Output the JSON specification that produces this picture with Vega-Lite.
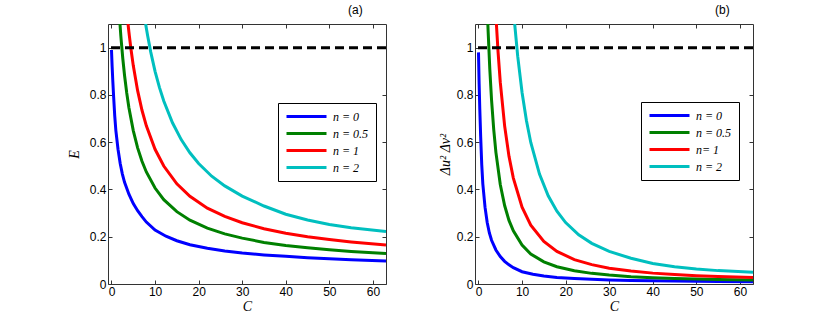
{
  "$schema": "https://vega.github.io/schema/vega-lite/v6.json",
  "padding": {"left": 66, "top": 3, "right": 5, "bottom": 5},
  "background": "white",
  "config": {
    "view": {"stroke": "#333333", "strokeWidth": 1},
    "axis": {"labelFont": "Liberation Sans", "labelFontSize": 12, "labelColor": "#000000", "titleFont": "Liberation Serif", "titleFontStyle": "italic", "titleFontWeight": "normal", "titleFontSize": 14, "titleColor": "#000000", "domain": false, "grid": false, "tickColor": "#333333", "tickSize": -4, "tickWidth": 1},
    "legend": {"orient": "none", "title": null, "symbolType": "M-1,0H7", "symbolSize": 100, "symbolStrokeWidth": 3, "labelFont": "Liberation Serif", "labelFontStyle": "italic", "labelFontSize": 12, "labelColor": "#000000", "strokeColor": "#000000", "fillColor": "white", "padding": 7, "rowPadding": 4, "labelOffset": 35},
    "title": {"font": "Liberation Sans", "fontSize": 12, "fontWeight": "normal", "anchor": "end", "color": "#000000", "offset": 4}
  },
  "datasets": {
    "curves": [
      {"n": "n = 0", "C": 0, "E": 0.99, "D": 0.98},
      {"n": "n = 0", "C": 0.15, "E": 0.92, "D": 0.846},
      {"n": "n = 0", "C": 0.3, "E": 0.86, "D": 0.74},
      {"n": "n = 0", "C": 0.5, "E": 0.79, "D": 0.624},
      {"n": "n = 0", "C": 0.75, "E": 0.71, "D": 0.504},
      {"n": "n = 0", "C": 1.0, "E": 0.65, "D": 0.423},
      {"n": "n = 0", "C": 1.5, "E": 0.57, "D": 0.325},
      {"n": "n = 0", "C": 2, "E": 0.51, "D": 0.26},
      {"n": "n = 0", "C": 2.5, "E": 0.465, "D": 0.216},
      {"n": "n = 0", "C": 3, "E": 0.43, "D": 0.185},
      {"n": "n = 0", "C": 4, "E": 0.38, "D": 0.144},
      {"n": "n = 0", "C": 5, "E": 0.34, "D": 0.116},
      {"n": "n = 0", "C": 6, "E": 0.31, "D": 0.096},
      {"n": "n = 0", "C": 7, "E": 0.285, "D": 0.081},
      {"n": "n = 0", "C": 8, "E": 0.262, "D": 0.069},
      {"n": "n = 0", "C": 10, "E": 0.228, "D": 0.052},
      {"n": "n = 0", "C": 12.5, "E": 0.202, "D": 0.041},
      {"n": "n = 0", "C": 15, "E": 0.183, "D": 0.0335},
      {"n": "n = 0", "C": 18, "E": 0.166, "D": 0.0276},
      {"n": "n = 0", "C": 22, "E": 0.151, "D": 0.0228},
      {"n": "n = 0", "C": 26, "E": 0.14, "D": 0.0196},
      {"n": "n = 0", "C": 30, "E": 0.131, "D": 0.0172},
      {"n": "n = 0", "C": 35, "E": 0.123, "D": 0.0151},
      {"n": "n = 0", "C": 40, "E": 0.117, "D": 0.0137},
      {"n": "n = 0", "C": 45, "E": 0.111, "D": 0.0123},
      {"n": "n = 0", "C": 50, "E": 0.107, "D": 0.0114},
      {"n": "n = 0", "C": 55, "E": 0.103, "D": 0.0106},
      {"n": "n = 0", "C": 63, "E": 0.097, "D": 0.0094},
      {"n": "n = 0.5", "C": 1.95, "E": 1.1, "D": null},
      {"n": "n = 0.5", "C": 2.15, "E": 1.049, "D": 1.1},
      {"n": "n = 0.5", "C": 2.2, "E": 1.037, "D": 1.075},
      {"n": "n = 0.5", "C": 2.6, "E": 0.953, "D": 0.908},
      {"n": "n = 0.5", "C": 3, "E": 0.882, "D": 0.778},
      {"n": "n = 0.5", "C": 3.5, "E": 0.808, "D": 0.653},
      {"n": "n = 0.5", "C": 4, "E": 0.746, "D": 0.557},
      {"n": "n = 0.5", "C": 5, "E": 0.649, "D": 0.421},
      {"n": "n = 0.5", "C": 6, "E": 0.576, "D": 0.332},
      {"n": "n = 0.5", "C": 7, "E": 0.519, "D": 0.269},
      {"n": "n = 0.5", "C": 8, "E": 0.474, "D": 0.225},
      {"n": "n = 0.5", "C": 10, "E": 0.406, "D": 0.165},
      {"n": "n = 0.5", "C": 12, "E": 0.357, "D": 0.127},
      {"n": "n = 0.5", "C": 15, "E": 0.306, "D": 0.094},
      {"n": "n = 0.5", "C": 18, "E": 0.27, "D": 0.073},
      {"n": "n = 0.5", "C": 22, "E": 0.236, "D": 0.056},
      {"n": "n = 0.5", "C": 26, "E": 0.212, "D": 0.045},
      {"n": "n = 0.5", "C": 30, "E": 0.194, "D": 0.0376},
      {"n": "n = 0.5", "C": 35, "E": 0.176, "D": 0.031},
      {"n": "n = 0.5", "C": 40, "E": 0.163, "D": 0.0266},
      {"n": "n = 0.5", "C": 45, "E": 0.153, "D": 0.0234},
      {"n": "n = 0.5", "C": 50, "E": 0.1445, "D": 0.0209},
      {"n": "n = 0.5", "C": 55, "E": 0.138, "D": 0.019},
      {"n": "n = 0.5", "C": 63, "E": 0.129, "D": 0.0166},
      {"n": "n = 1", "C": 3.8, "E": 1.1, "D": null},
      {"n": "n = 1", "C": 4, "E": 1.066, "D": null},
      {"n": "n = 1", "C": 4.11, "E": 1.049, "D": 1.1},
      {"n": "n = 1", "C": 4.5, "E": 0.99, "D": 0.98},
      {"n": "n = 1", "C": 5, "E": 0.924, "D": 0.854},
      {"n": "n = 1", "C": 6, "E": 0.818, "D": 0.669},
      {"n": "n = 1", "C": 7, "E": 0.735, "D": 0.54},
      {"n": "n = 1", "C": 8, "E": 0.669, "D": 0.448},
      {"n": "n = 1", "C": 10, "E": 0.57, "D": 0.325},
      {"n": "n = 1", "C": 12, "E": 0.499, "D": 0.249},
      {"n": "n = 1", "C": 15, "E": 0.424, "D": 0.18},
      {"n": "n = 1", "C": 18, "E": 0.371, "D": 0.138},
      {"n": "n = 1", "C": 22, "E": 0.321, "D": 0.103},
      {"n": "n = 1", "C": 26, "E": 0.286, "D": 0.082},
      {"n": "n = 1", "C": 30, "E": 0.259, "D": 0.067},
      {"n": "n = 1", "C": 35, "E": 0.234, "D": 0.055},
      {"n": "n = 1", "C": 40, "E": 0.215, "D": 0.046},
      {"n": "n = 1", "C": 45, "E": 0.2, "D": 0.04},
      {"n": "n = 1", "C": 50, "E": 0.188, "D": 0.0353},
      {"n": "n = 1", "C": 55, "E": 0.178, "D": 0.0317},
      {"n": "n = 1", "C": 63, "E": 0.165, "D": 0.0272},
      {"n": "n = 2", "C": 7.84, "E": 1.1, "D": null},
      {"n": "n = 2", "C": 8, "E": 1.082, "D": null},
      {"n": "n = 2", "C": 8.31, "E": 1.049, "D": 1.1},
      {"n": "n = 2", "C": 9, "E": 0.982, "D": 0.964},
      {"n": "n = 2", "C": 10, "E": 0.9, "D": 0.81},
      {"n": "n = 2", "C": 11, "E": 0.832, "D": 0.692},
      {"n": "n = 2", "C": 12, "E": 0.774, "D": 0.599},
      {"n": "n = 2", "C": 14, "E": 0.682, "D": 0.465},
      {"n": "n = 2", "C": 16, "E": 0.611, "D": 0.373},
      {"n": "n = 2", "C": 18, "E": 0.555, "D": 0.308},
      {"n": "n = 2", "C": 20, "E": 0.51, "D": 0.26},
      {"n": "n = 2", "C": 23, "E": 0.456, "D": 0.208},
      {"n": "n = 2", "C": 26, "E": 0.415, "D": 0.172},
      {"n": "n = 2", "C": 30, "E": 0.372, "D": 0.138},
      {"n": "n = 2", "C": 35, "E": 0.33, "D": 0.109},
      {"n": "n = 2", "C": 40, "E": 0.295, "D": 0.087},
      {"n": "n = 2", "C": 45, "E": 0.271, "D": 0.0734},
      {"n": "n = 2", "C": 50, "E": 0.252, "D": 0.0635},
      {"n": "n = 2", "C": 55, "E": 0.238, "D": 0.0566},
      {"n": "n = 2", "C": 63, "E": 0.222, "D": 0.0493}
    ],
    "threshold": [{"level": 1}]
  },
  "spacing": 47,
  "resolve": {"legend": {"color": "independent"}, "scale": {"color": "independent"}},
  "hconcat": [
    {
      "width": 278,
      "height": 260,
      "title": {"text": "(a)", "dx": -26},
      "layer": [
        {
          "data": {"name": "curves"},
          "mark": {"type": "line", "strokeWidth": 3, "clip": true},
          "encoding": {
            "x": {"field": "C", "type": "quantitative", "title": "C", "scale": {"domain": [-0.8, 63], "nice": false, "zero": false}, "axis": {"orient": "bottom", "values": [0, 10, 20, 30, 40, 50, 60], "labelPadding": 6, "titlePadding": 2}},
            "y": {"field": "E", "type": "quantitative", "title": "E", "scale": {"domain": [0, 1.1], "nice": false}, "axis": {"orient": "left", "values": [0, 0.2, 0.4, 0.6, 0.8, 1], "format": "~g", "labelPadding": 6, "titlePadding": 8}},
            "color": {"field": "n", "type": "nominal", "scale": {"domain": ["n = 0", "n = 0.5", "n = 1", "n = 2"], "range": ["#0000ff", "#008000", "#ff0000", "#00bfbf"]}, "legend": {"legendX": 170, "legendY": 79}}
          }
        },
        {
          "data": {"name": "curves"},
          "mark": {"type": "point", "opacity": 0},
          "encoding": {
            "x": {"field": "C", "type": "quantitative", "axis": {"orient": "top", "values": [0, 10, 20, 30, 40, 50, 60], "labels": false, "title": null}},
            "y": {"field": "E", "type": "quantitative", "axis": {"orient": "right", "values": [0, 0.2, 0.4, 0.6, 0.8, 1], "labels": false, "title": null}}
          }
        },
        {
          "data": {"name": "threshold"},
          "mark": {"type": "rule", "strokeDash": [9, 5], "strokeWidth": 3, "color": "#000000"},
          "encoding": {"y": {"field": "level", "type": "quantitative", "axis": null}}
        }
      ]
    },
    {
      "width": 278,
      "height": 260,
      "title": {"text": "(b)", "dx": -26},
      "layer": [
        {
          "data": {"name": "curves"},
          "mark": {"type": "line", "strokeWidth": 3, "clip": true},
          "encoding": {
            "x": {"field": "C", "type": "quantitative", "title": "C", "scale": {"domain": [-0.8, 63], "nice": false, "zero": false}, "axis": {"orient": "bottom", "values": [0, 10, 20, 30, 40, 50, 60], "labelPadding": 6, "titlePadding": 2}},
            "y": {"field": "D", "type": "quantitative", "title": "Δu² Δv²", "scale": {"domain": [0, 1.1], "nice": false}, "axis": {"orient": "left", "values": [0, 0.2, 0.4, 0.6, 0.8, 1], "format": "~g", "labelPadding": 6, "titlePadding": 4}},
            "color": {"field": "n", "type": "nominal", "scale": {"domain": ["n = 0", "n = 0.5", "n = 1", "n = 2"], "range": ["#0000ff", "#008000", "#ff0000", "#00bfbf"]}, "legend": {"legendX": 166, "legendY": 78, "labelExpr": "datum.label == 'n = 1' ? 'n= 1' : datum.label"}}
          }
        },
        {
          "data": {"name": "curves"},
          "mark": {"type": "point", "opacity": 0},
          "encoding": {
            "x": {"field": "C", "type": "quantitative", "axis": {"orient": "top", "values": [0, 10, 20, 30, 40, 50, 60], "labels": false, "title": null}},
            "y": {"field": "D", "type": "quantitative", "axis": {"orient": "right", "values": [0, 0.2, 0.4, 0.6, 0.8, 1], "labels": false, "title": null}}
          }
        },
        {
          "data": {"name": "threshold"},
          "mark": {"type": "rule", "strokeDash": [9, 5], "strokeWidth": 3, "color": "#000000"},
          "encoding": {"y": {"field": "level", "type": "quantitative", "axis": null}}
        }
      ]
    }
  ]
}
